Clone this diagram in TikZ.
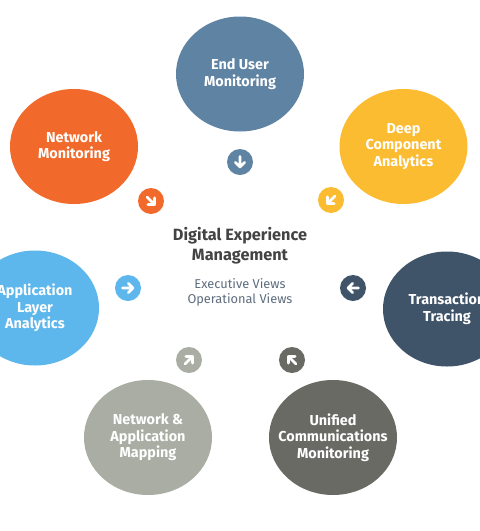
\documentclass[tikz,border=0pt]{standalone}
\usepackage{fontspec}
\setmainfont{Fira Sans}
\usetikzlibrary{shapes.geometric}
\definecolor{dxeum}{HTML}{5E83A3}
\definecolor{dxnet}{HTML}{F26A2B}
\definecolor{dxdeep}{HTML}{FCBC32}
\definecolor{dxtrans}{HTML}{3F5468}
\definecolor{dxapp}{HTML}{5DB7EC}
\definecolor{dxmap}{HTML}{A9ADA3}
\definecolor{dxuc}{HTML}{6A6A65}
\definecolor{dxtitle}{HTML}{434343}
\definecolor{dxsub}{HTML}{5E6D7E}
\tikzset{
  dxbub/.style   = {ellipse, minimum width=128pt, minimum height=115pt,
                     inner xsep=-14pt, inner ysep=0pt, align=center, text=white,
                     font={\bfseries\fontsize{14.4}{16.5}\selectfont}},
  dxico/.style   = {circle, minimum size=26pt, inner sep=0pt},
  dxttl/.style   = {align=center, text=dxtitle,
                     font={\bfseries\fontsize{16.3}{20}\selectfont}},
  dxsubt/.style  = {align=center, text=dxsub,
                     font={\fontsize{12.8}{15}\selectfont}},
  dxglyph/.pic   = {\draw[white, line width=2.8pt, line cap=round, line join=round]
                     (-5.5,0) -- (5,0) (0.3,4.7) -- (5,0) -- (0.3,-4.7);},
}
\begin{document}
\begin{tikzpicture}[x=1pt, y=1pt]
    \clip (0,0) rectangle (480,-531);
    \fill[white] (0,0) rectangle (480,-531);

    % bubbles
    \node[dxbub, fill=dxeum]   (eum)    at (240,-74)    {End User\\Monitoring};
    \node[dxbub, fill=dxnet]   (netmon) at (74,-146.5)  {Network\\Monitoring};
    \node[dxbub, fill=dxdeep]  (deepca) at (403.5,-146.5) {Deep\\Component\\Analytics};
    \node[dxbub, fill=dxapp]   (applay) at (35,-308)    {Application\\Layer\\Analytics};
    \node[dxbub, fill=dxtrans] (trans)  at (447,-309)   {Transaction\\Tracing};
    \node[dxbub, fill=dxmap]   (napmap) at (148,-437.5) {Network \&\\Application\\Mapping};
    \node[dxbub, fill=dxuc]    (ucmon)  at (333,-437.5) {Unified\\Communications\\Monitoring};

    % centre text
    \node[dxttl]  (dem)   at (240,-246)   {Digital Experience\\Management};
    \node[dxsubt] (views) at (240,-292.5) {Executive Views\\Operational Views};

    % arrow icons
    \node[dxico, fill=dxeum]   (eumi)    at (240,-162) {};
    \node[dxico, fill=dxnet]   (netmoni) at (151,-201) {};
    \node[dxico, fill=dxdeep]  (deepcai) at (331,-200) {};
    \node[dxico, fill=dxapp]   (applayi) at (128,-288) {};
    \node[dxico, fill=dxtrans] (transi)  at (353,-288) {};
    \node[dxico, fill=dxmap]   (napmapi) at (189,-360) {};
    \node[dxico, fill=dxuc]    (ucmoni)  at (292,-360) {};

    \pic[rotate=-90]  at (eumi)    {dxglyph};
    \pic[rotate=-45]  at (netmoni) {dxglyph};
    \pic[rotate=-135] at (deepcai) {dxglyph};
    \pic              at (applayi) {dxglyph};
    \pic[rotate=180]  at (transi)  {dxglyph};
    \pic[rotate=45]   at (napmapi) {dxglyph};
    \pic[rotate=135]  at (ucmoni)  {dxglyph};
\end{tikzpicture}
\end{document}
